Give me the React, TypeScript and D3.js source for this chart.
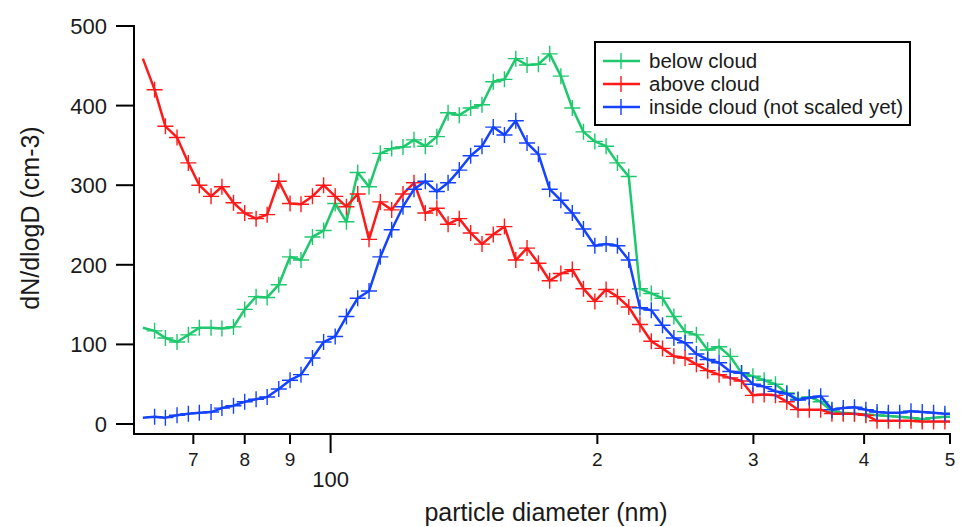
import React from "react";
import * as d3 from "d3";

const diameters = [61.4, 63.3, 65.1, 67.1, 69.1, 71.1, 73.3, 75.4, 77.7, 80.0, 82.4, 84.8, 87.4, 90.0, 92.6, 95.4, 98.2, 101.2, 104.2, 107.3, 110.5, 113.8, 117.2, 120.7, 124.2, 127.9, 131.8, 135.7, 139.7, 143.9, 148.2, 152.6, 157.1, 161.8, 166.6, 171.6, 176.7, 181.9, 187.4, 192.9, 198.7, 204.6, 210.7, 217.0, 223.4, 230.1, 236.9, 244.0, 251.2, 258.7, 266.4, 274.4, 282.5, 290.9, 299.6, 308.5, 317.7, 327.2, 336.9, 346.9, 357.3, 367.9, 378.9, 390.1, 401.8, 413.7, 426.0, 438.7, 451.8, 465.2, 479.1, 493.4, 508.0];

const belowCloud = [121, 117, 108, 103, 112, 121, 121, 120, 122, 144, 160, 159, 175, 210, 206, 235, 243, 277, 254, 316, 298, 340, 346, 348, 357, 349, 361, 391, 388, 397, 401, 430, 433, 459, 451, 452, 465, 437, 397, 367, 355, 349, 328, 311, 170, 164, 158, 135, 116, 112, 93, 97, 85, 64, 60, 55, 50, 39, 31, 34, 28, 16, 14, 13, 12, 11, 10, 9, 8, 6, 8, 9, 9];

const aboveCloud = [459, 420, 374, 360, 328, 300, 286, 298, 278, 265, 258, 263, 305, 277, 276, 286, 300, 286, 273, 289, 232, 279, 269, 289, 303, 265, 271, 251, 258, 240, 226, 238, 248, 206, 221, 202, 180, 189, 194, 170, 154, 169, 160, 147, 125, 104, 95, 85, 83, 75, 67, 62, 58, 54, 36, 37, 36, 28, 18, 18, 18, 13, 13, 13, 11, 4, 4, 4, 4, 3, 3, 3, 3];

const insideCloud = [8, 9, 8, 11, 13, 14, 15, 20, 23, 28, 31, 34, 44, 55, 62, 83, 103, 110, 135, 158, 167, 210, 244, 273, 295, 305, 292, 303, 319, 337, 349, 373, 363, 381, 353, 339, 295, 281, 265, 245, 224, 226, 224, 206, 146, 143, 124, 108, 102, 88, 81, 77, 66, 64, 50, 47, 41, 38, 30, 33, 35, 18, 20, 21, 18, 15, 14, 14, 16, 15, 14, 13, 13];

const seriesNames = ["below cloud", "above cloud", "inside cloud (not scaled yet)"];
const seriesColors = ["#1ec86c", "#ff1a1a", "#1443ff"];
const seriesValues = [belowCloud, aboveCloud, insideCloud];

const xTickValues = [70, 80, 90, 100, 200, 300, 400, 500];
const xTickLabels = ["7", "8", "9", "100", "2", "3", "4", "5"];
const yTickValues = [0, 100, 200, 300, 400, 500];

const W = 961;
const H = 527;
const left = 134;
const right = 950;
const axisY = 434;
const FONT = "'Liberation Sans', Arial, sans-serif";
const TEXT = "#1a1a1a";

export default function App() {
  const x = d3.scaleLog().domain([60, 500]).range([left, right]);
  const y = d3.scaleLinear().domain([0, 500]).range([424, 26]);

  const line = d3
    .line<number>()
    .x((_, i) => x(diameters[i]))
    .y((v) => y(v));

  const m = 8;

  return (
    <svg width={W} height={H} style={{ position: "absolute", left: 0, top: 0, background: "#fff" }}>
      <defs>
        <clipPath id="plotClip">
          <rect x={left} y={0} width={right - left} height={axisY} />
        </clipPath>
      </defs>

      <g clipPath="url(#plotClip)">
        {seriesValues.map((vals, s) => (
          <g key={s}>
            <path d={line(vals) || ""} fill="none" stroke={seriesColors[s]} strokeWidth={2.5} strokeLinejoin="round" />
            {vals.map((v, i) =>
              i === 0 ? null : (
                <path
                  key={i}
                  d={`M${x(diameters[i]) - m},${y(v)}H${x(diameters[i]) + m}M${x(diameters[i])},${y(v) - m}V${y(v) + m}`}
                  stroke={seriesColors[s]}
                  strokeWidth={1.4}
                  fill="none"
                />
              )
            )}
          </g>
        ))}
      </g>

      {/* axes */}
      <line x1={left} x2={left} y1={25} y2={axisY + 1} stroke="#000" strokeWidth={2} />
      <line x1={left - 1} x2={right + 1} y1={axisY} y2={axisY} stroke="#000" strokeWidth={2} />

      {yTickValues.map((v) => (
        <g key={v}>
          <line x1={left - 18} x2={left} y1={y(v)} y2={y(v)} stroke="#000" strokeWidth={2} />
          <text x={left - 27} y={y(v)} dy="0.36em" textAnchor="end" fontFamily={FONT} fontSize={22} fill={TEXT}>
            {v}
          </text>
        </g>
      ))}

      {xTickValues.map((v, i) => {
        const major = v === 100;
        return (
          <g key={v}>
            <line x1={x(v)} x2={x(v)} y1={axisY} y2={axisY + (major ? 19 : 10)} stroke="#000" strokeWidth={2} />
            <text
              x={x(v)}
              y={major ? 487 : 466}
              textAnchor="middle"
              fontFamily={FONT}
              fontSize={major ? 22 : 19}
              fill={TEXT}
            >
              {xTickLabels[i]}
            </text>
          </g>
        );
      })}

      <text x={546} y={521} textAnchor="middle" fontFamily={FONT} fontSize={25} fill={TEXT}>
        particle diameter (nm)
      </text>
      <text
        transform={`translate(39,218) rotate(-90)`}
        textAnchor="middle"
        fontFamily={FONT}
        fontSize={25}
        fill={TEXT}
      >
        dN/dlogD (cm-3)
      </text>

      {/* legend */}
      <rect x={595} y={42} width={315} height={83} fill="#fff" stroke="#000" strokeWidth={2} />
      {seriesNames.map((name, s) => {
        const ly = 61 + s * 23;
        return (
          <g key={name}>
            <line x1={603} x2={640} y1={ly} y2={ly} stroke={seriesColors[s]} strokeWidth={2.5} />
            <path d={`M${621 - m},${ly}H${621 + m}M621,${ly - m}V${ly + m}`} stroke={seriesColors[s]} strokeWidth={1.4} />
            <text x={649} y={ly} dy="0.36em" fontFamily={FONT} fontSize={20.5} fill={TEXT}>
              {name}
            </text>
          </g>
        );
      })}
    </svg>
  );
}
